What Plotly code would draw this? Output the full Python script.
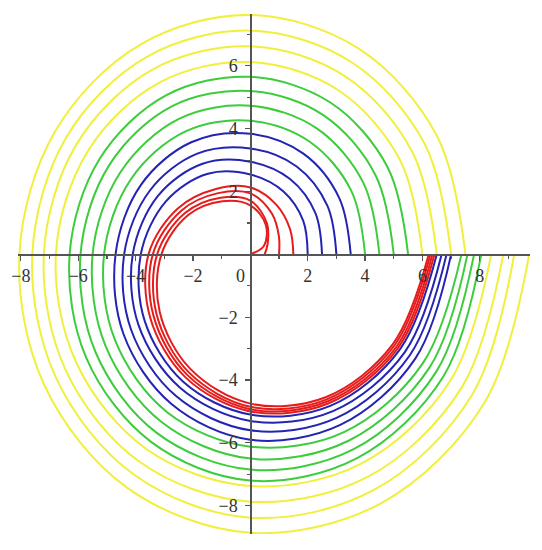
import numpy as np
import plotly.graph_objects as go

# polar angles (degrees) at which each curve's distance from the origin was read
angles_deg = [0, 30, 60, 90, 120, 150, 180, 210, 240, 270, 300, 330, 360]

red_r = [
    [0.0, 0.55, 1.08, 1.56, 1.95, 2.50, 3.10, 3.65, 4.20, 4.75, 5.25, 5.73, 6.22],
    [0.5, 0.70, 1.15, 1.71, 2.08, 2.63, 3.25, 3.78, 4.32, 4.85, 5.33, 5.80, 6.28],
    [1.0, 1.15, 1.50, 1.94, 2.25, 2.78, 3.40, 3.90, 4.42, 4.93, 5.40, 5.88, 6.35],
    [1.5, 1.60, 1.82, 2.13, 2.40, 2.92, 3.55, 4.03, 4.52, 5.00, 5.47, 5.95, 6.42],
]
blue_r = [
    [2.0, 2.13, 2.31, 2.54, 2.96, 3.39, 3.82, 4.25, 4.68, 5.10, 5.57, 6.03, 6.50],
    [2.5, 2.62, 2.77, 2.95, 3.33, 3.72, 4.10, 4.50, 4.90, 5.30, 5.76, 6.22, 6.67],
    [3.0, 3.10, 3.23, 3.37, 3.70, 4.05, 4.40, 4.80, 5.20, 5.60, 6.01, 6.42, 6.84],
    [3.5, 3.58, 3.70, 3.84, 4.12, 4.41, 4.70, 5.10, 5.50, 5.90, 6.27, 6.64, 7.00],
]
green_r = [
    [4.0, 4.06, 4.14, 4.25, 4.52, 4.80, 5.10, 5.45, 5.80, 6.12, 6.53, 6.94, 7.36],
    [4.5, 4.55, 4.63, 4.73, 4.98, 5.23, 5.50, 5.83, 6.17, 6.50, 6.85, 7.21, 7.57],
    [5.0, 5.04, 5.11, 5.20, 5.45, 5.68, 5.92, 6.23, 6.55, 6.85, 7.17, 7.48, 7.80],
    [5.5, 5.53, 5.58, 5.65, 5.85, 6.07, 6.30, 6.60, 6.90, 7.20, 7.48, 7.77, 8.05],
]
yellow_r = [
    [6.0, 6.02, 6.06, 6.12, 6.32, 6.55, 6.78, 6.98, 7.18, 7.37, 7.70, 8.05, 8.40],
    [6.5, 6.52, 6.56, 6.62, 6.80, 7.00, 7.20, 7.42, 7.65, 7.87, 8.18, 8.50, 8.82],
    [7.0, 7.02, 7.06, 7.12, 7.25, 7.42, 7.60, 7.83, 8.10, 8.38, 8.65, 8.93, 9.20],
    [7.5, 7.52, 7.56, 7.62, 7.70, 7.85, 8.05, 8.30, 8.58, 8.86, 9.14, 9.43, 9.72],
]

x_ticks = [-8, -6, -4, -2, 2, 4, 6, 8]
y_ticks = [-8, -6, -4, -2, 2, 4, 6]
x_minor = [-7, -5, -3, -1, 1, 3, 5, 7, 9]
y_minor = [-7, -5, -3, -1, 1, 3, 5, 7]

groups = [
    (yellow_r, "#f0f03c"),
    (green_r, "#3ccc3c"),
    (blue_r, "#2323b4"),
    (red_r, "#e61c1c"),
]

fig = go.Figure()
th = np.radians(angles_deg)
for radii, color in groups:
    for r in radii:
        r = np.array(r)
        fig.add_trace(go.Scatter(
            x=r * np.cos(th), y=r * np.sin(th), mode="lines",
            line=dict(color=color, width=2, shape="spline", smoothing=1.0),
            hoverinfo="skip", showlegend=False,
        ))

x_lo, x_hi = -8.1, 9.75
y_lo, y_hi = -8.9, 7.65

def lab(v):
    return ("\u2212" + str(-v)) if v < 0 else str(v)

font = dict(family="Liberation Serif, Times New Roman, serif", size=18, color="#333333")

fig.update_layout(
    width=542, height=550,
    margin=dict(l=18, r=12, t=14, b=16, autoexpand=False),
    paper_bgcolor="white", plot_bgcolor="white",
    showlegend=False,
    xaxis=dict(
        range=[x_lo, x_hi], showgrid=False, zeroline=False, automargin=False,
        showline=True, linecolor="#555555", linewidth=1.5,
        anchor="free", position=(0 - y_lo) / (y_hi - y_lo),
        ticks="outside", ticklen=5, tickwidth=1.2, tickcolor="#555555",
        tickvals=x_ticks, ticktext=[lab(v) for v in x_ticks],
        tickfont=font, ticklabelstandoff=0,
        minor=dict(tickvals=x_minor, ticks="outside", ticklen=3,
                   tickcolor="#555555", showgrid=False),
    ),
    yaxis=dict(
        range=[y_lo, y_hi], showgrid=False, zeroline=False, automargin=False,
        showline=True, linecolor="#555555", linewidth=1.5,
        anchor="free", position=(0 - x_lo) / (x_hi - x_lo),
        ticks="outside", ticklen=5, tickwidth=1.2, tickcolor="#555555",
        tickvals=y_ticks, ticktext=[lab(v) for v in y_ticks],
        tickfont=font, ticklabelstandoff=4,
        minor=dict(tickvals=y_minor, ticks="outside", ticklen=3,
                   tickcolor="#555555", showgrid=False),
    ),
    annotations=[dict(x=0, y=0, xref="x", yref="y", text="0", showarrow=False,
                      font=font, xshift=-10, yshift=-22)],
)

fig.write_html(
    "out.html",
    config={"displayModeBar": False, "staticPlot": True},
    post_script="document.body.style.margin='0px';document.body.style.padding='0px';",
)
